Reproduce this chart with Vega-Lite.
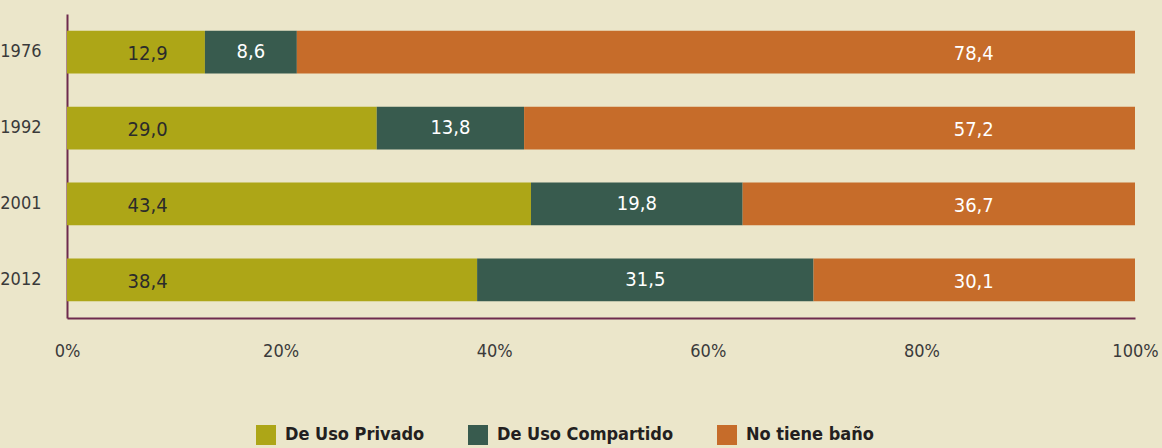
{
  "$schema": "https://vega.github.io/schema/vega-lite/v6.json",
  "width": 1068,
  "height": 304,
  "autosize": "none",
  "padding": {"left": 67, "top": 14, "right": 27, "bottom": 130},
  "background": "#EBE6CA",
  "config": {
    "view": {"stroke": null},
    "font": "DejaVu Sans Condensed, Roboto, sans-serif",
    "axis": {"labelFont": "DejaVu Sans Condensed, Roboto, sans-serif", "labelColor": "#3a3a3a", "labelFontSize": 18}
  },
  "data": {
    "values": [
      {"year": "1976", "cat": "De Uso Privado", "order": 1, "value": 12.9, "label": "12,9"},
      {"year": "1976", "cat": "De Uso Compartido", "order": 2, "value": 8.6, "label": "8,6"},
      {"year": "1976", "cat": "No tiene baño", "order": 3, "value": 78.4, "label": "78,4"},
      {"year": "1992", "cat": "De Uso Privado", "order": 1, "value": 29.0, "label": "29,0"},
      {"year": "1992", "cat": "De Uso Compartido", "order": 2, "value": 13.8, "label": "13,8"},
      {"year": "1992", "cat": "No tiene baño", "order": 3, "value": 57.2, "label": "57,2"},
      {"year": "2001", "cat": "De Uso Privado", "order": 1, "value": 43.4, "label": "43,4"},
      {"year": "2001", "cat": "De Uso Compartido", "order": 2, "value": 19.8, "label": "19,8"},
      {"year": "2001", "cat": "No tiene baño", "order": 3, "value": 36.7, "label": "36,7"},
      {"year": "2012", "cat": "De Uso Privado", "order": 1, "value": 38.4, "label": "38,4"},
      {"year": "2012", "cat": "De Uso Compartido", "order": 2, "value": 31.5, "label": "31,5"},
      {"year": "2012", "cat": "No tiene baño", "order": 3, "value": 30.1, "label": "30,1"}
    ]
  },
  "encoding": {
    "y": {
      "field": "year", "type": "nominal", "sort": ["1976", "1992", "2001", "2012"],
      "scale": {"paddingInner": 0.436, "paddingOuter": 0.22},
      "axis": {"title": null, "ticks": false, "domainColor": "#6E2A4D", "domainWidth": 2, "labelPadding": 26}
    }
  },
  "layer": [
    {
      "mark": {"type": "bar"},
      "encoding": {
        "x": {
          "field": "value", "type": "quantitative", "stack": "normalize",
          "scale": {"domain": [0, 1], "nice": false},
          "axis": {"title": null, "format": ".0%", "values": [0, 0.2, 0.4, 0.6, 0.8, 1], "grid": false, "ticks": false,
                   "labelFlush": false, "domainColor": "#6E2A4D", "domainWidth": 2, "labelPadding": 24}
        },
        "color": {
          "field": "cat", "type": "nominal",
          "scale": {"domain": ["De Uso Privado", "De Uso Compartido", "No tiene baño"], "range": ["#ADA617", "#385B4E", "#C66C2A"]},
          "legend": {
            "title": null, "orient": "none", "direction": "horizontal", "legendX": 189, "legendY": 411,
            "symbolType": "square", "symbolSize": 400, "symbolStrokeWidth": 0, "symbolOpacity": 1,
            "labelFont": "DejaVu Sans Condensed, Roboto, sans-serif", "labelFontSize": 18, "labelFontWeight": "bold", "labelColor": "#231F20",
            "labelOffset": 9, "columnPadding": 43, "labelLimit": 300
          }
        },
        "order": {"field": "order"}
      }
    },
    {
      "transform": [{"filter": "datum.cat == 'De Uso Privado'"}],
      "mark": {"type": "text", "fontSize": 20, "color": "#2B2B2B", "baseline": "middle", "dy": 2},
      "encoding": {
        "x": {"datum": 0.0755, "type": "quantitative"},
        "text": {"field": "label"}
      }
    },
    {
      "transform": [
        {"stack": "value", "groupby": ["year"], "sort": [{"field": "order"}], "offset": "normalize", "as": ["v0", "v1"]},
        {"filter": "datum.cat == 'De Uso Compartido'"},
        {"calculate": "(datum.v0 + datum.v1) / 2", "as": "mid"}
      ],
      "mark": {"type": "text", "fontSize": 20, "color": "#FFFFFF", "baseline": "middle", "dy": 0},
      "encoding": {
        "x": {"field": "mid", "type": "quantitative"},
        "text": {"field": "label"}
      }
    },
    {
      "transform": [{"filter": "datum.cat == 'No tiene baño'"}],
      "mark": {"type": "text", "fontSize": 20, "color": "#FFFFFF", "baseline": "middle", "dy": 2},
      "encoding": {
        "x": {"datum": 0.849, "type": "quantitative"},
        "text": {"field": "label"}
      }
    }
  ]
}
